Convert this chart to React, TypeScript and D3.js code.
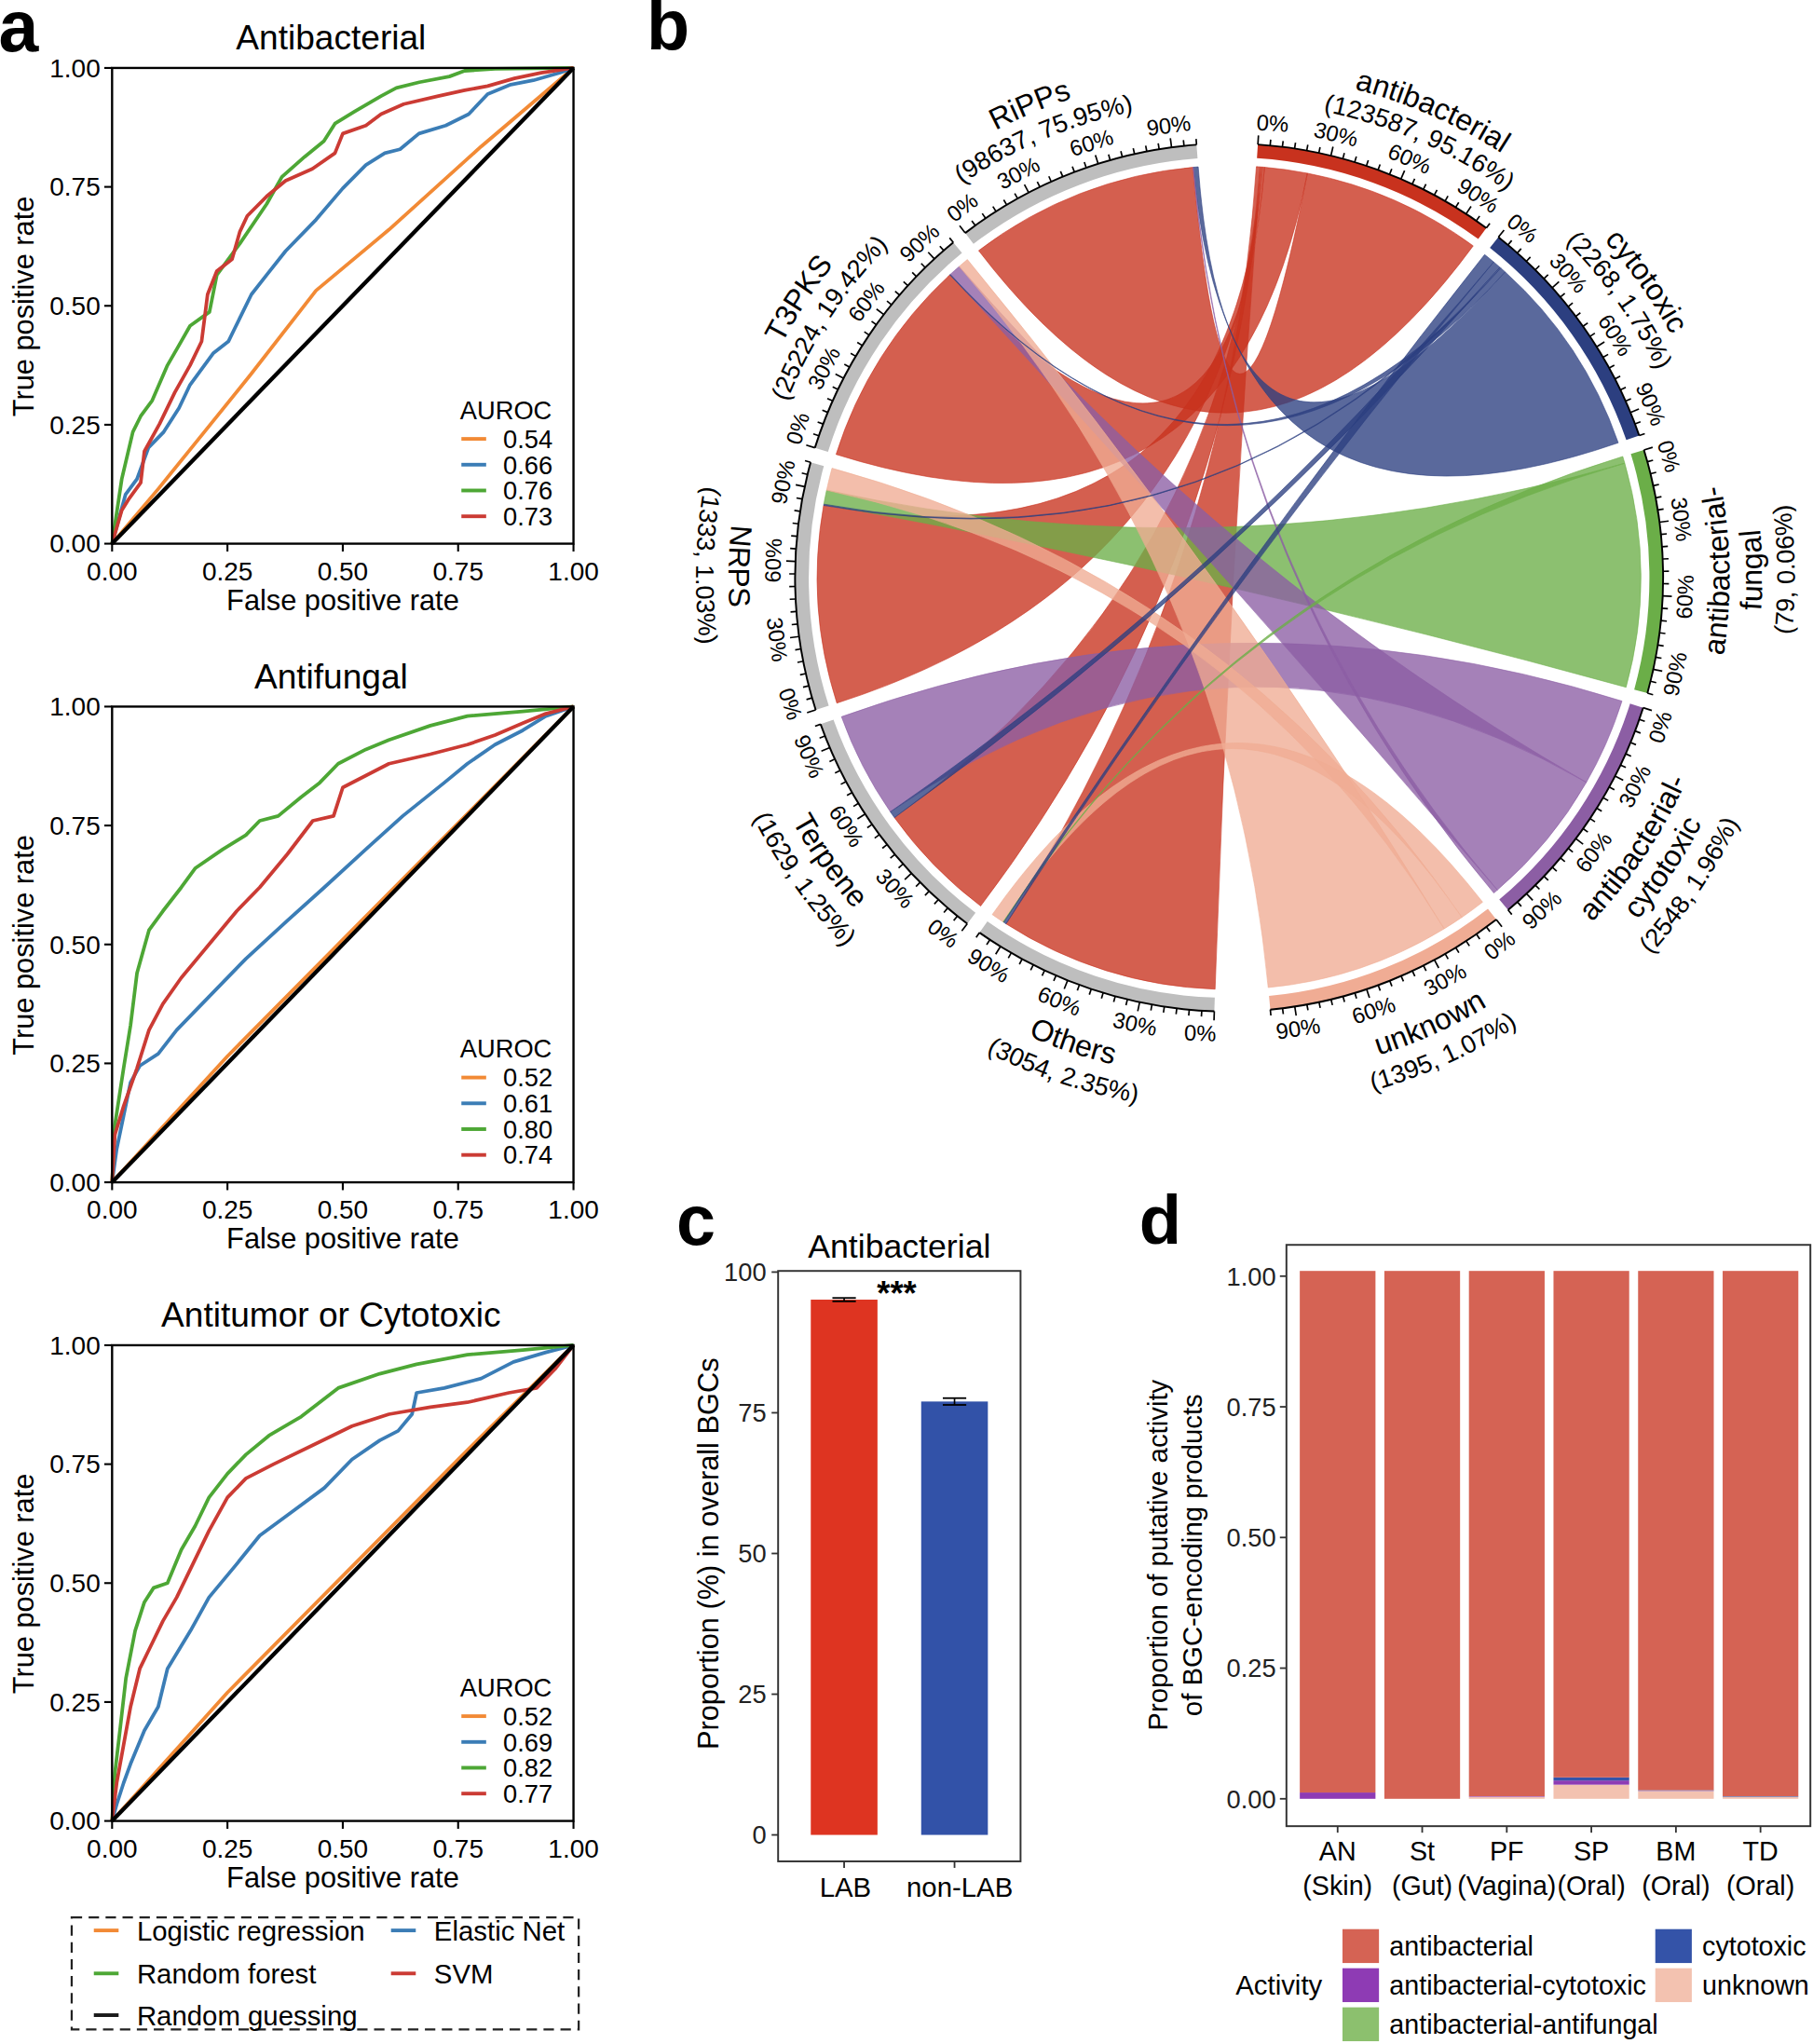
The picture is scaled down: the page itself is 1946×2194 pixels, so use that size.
import React from "react";
import * as d3 from "d3";

const FONT = "'Liberation Sans', Arial, Helvetica, sans-serif";
const W = 1391;
const H = 1568;

// ---------- panel a : ROC curves ----------
const rocTitles = ["Antibacterial", "Antifungal", "Antitumor or Cytotoxic"];
const modelNames = ["Logistic regression", "Elastic Net", "Random forest", "SVM"];
const modelColors = ["#F28A35", "#3B7DB6", "#4DA735", "#CB3B34"];
const aurocAntibacterial = ["0.54", "0.66", "0.76", "0.73"];
const aurocAntifungal = ["0.52", "0.61", "0.80", "0.74"];
const aurocCytotoxic = ["0.52", "0.69", "0.82", "0.77"];
const rocTicks = [0, 0.25, 0.5, 0.75, 1];

type Pt = [number, number];

// [false positive rate, true positive rate]
const abLogistic: Pt[] = [[0, 0], [0.1, 0.115], [0.2, 0.235], [0.3, 0.355], [0.442, 0.532], [0.6, 0.66], [0.8, 0.835], [1, 1]];
const abElastic: Pt[] = [[0, 0], [0.029, 0.103], [0.054, 0.136], [0.079, 0.202], [0.112, 0.235], [0.145, 0.285], [0.169, 0.334], [0.219, 0.4], [0.252, 0.425], [0.302, 0.524], [0.335, 0.565], [0.376, 0.615], [0.442, 0.681], [0.5, 0.747], [0.55, 0.796], [0.591, 0.821], [0.624, 0.829], [0.665, 0.862], [0.723, 0.879], [0.773, 0.903], [0.814, 0.945], [0.864, 0.965], [0.913, 0.974], [0.971, 0.99], [1, 1]];
const abForest: Pt[] = [[0, 0], [0.021, 0.136], [0.045, 0.235], [0.062, 0.268], [0.087, 0.301], [0.12, 0.375], [0.145, 0.417], [0.169, 0.458], [0.211, 0.487], [0.227, 0.565], [0.277, 0.631], [0.335, 0.714], [0.368, 0.771], [0.417, 0.813], [0.459, 0.846], [0.483, 0.883], [0.525, 0.908], [0.583, 0.941], [0.616, 0.958], [0.666, 0.97], [0.731, 0.982], [0.764, 0.994], [0.83, 0.998], [1, 1]];
const abSvm: Pt[] = [[0, 0], [0.021, 0.07], [0.037, 0.095], [0.062, 0.128], [0.07, 0.194], [0.103, 0.252], [0.136, 0.318], [0.169, 0.375], [0.194, 0.425], [0.207, 0.524], [0.227, 0.573], [0.26, 0.598], [0.277, 0.656], [0.293, 0.689], [0.335, 0.73], [0.376, 0.763], [0.434, 0.788], [0.483, 0.821], [0.5, 0.862], [0.55, 0.879], [0.583, 0.903], [0.632, 0.924], [0.707, 0.941], [0.764, 0.953], [0.814, 0.962], [0.872, 0.978], [0.93, 0.99], [1, 1]];

const afLogistic: Pt[] = [[0, 0], [0.25, 0.265], [0.5, 0.51], [0.75, 0.755], [1, 1]];
const afElastic: Pt[] = [[0, 0], [0.01, 0.07], [0.025, 0.14], [0.04, 0.21], [0.06, 0.245], [0.1, 0.27], [0.14, 0.32], [0.21, 0.39], [0.29, 0.47], [0.38, 0.55], [0.46, 0.62], [0.55, 0.7], [0.63, 0.77], [0.72, 0.84], [0.77, 0.88], [0.83, 0.92], [0.89, 0.95], [0.94, 0.98], [1, 1]];
const afForest: Pt[] = [[0, 0], [0.006, 0.12], [0.025, 0.24], [0.04, 0.33], [0.054, 0.44], [0.08, 0.53], [0.11, 0.57], [0.15, 0.62], [0.18, 0.66], [0.24, 0.7], [0.29, 0.73], [0.32, 0.76], [0.36, 0.77], [0.41, 0.81], [0.45, 0.84], [0.49, 0.88], [0.55, 0.91], [0.6, 0.93], [0.69, 0.96], [0.77, 0.98], [0.89, 0.99], [1, 1]];
const afSvm: Pt[] = [[0, 0], [0.006, 0.1], [0.025, 0.16], [0.054, 0.24], [0.08, 0.32], [0.11, 0.375], [0.15, 0.43], [0.21, 0.5], [0.27, 0.57], [0.32, 0.62], [0.38, 0.69], [0.435, 0.76], [0.48, 0.77], [0.5, 0.83], [0.55, 0.855], [0.6, 0.88], [0.69, 0.9], [0.77, 0.92], [0.83, 0.94], [0.89, 0.965], [0.94, 0.985], [1, 1]];

const atLogistic: Pt[] = [[0, 0], [0.25, 0.27], [0.5, 0.515], [0.75, 0.76], [1, 1]];
const atElastic: Pt[] = [[0, 0], [0.01, 0.035], [0.025, 0.08], [0.04, 0.12], [0.07, 0.19], [0.1, 0.24], [0.12, 0.32], [0.17, 0.4], [0.21, 0.47], [0.27, 0.54], [0.32, 0.6], [0.39, 0.65], [0.46, 0.7], [0.52, 0.76], [0.58, 0.8], [0.62, 0.82], [0.65, 0.855], [0.66, 0.9], [0.72, 0.91], [0.8, 0.93], [0.87, 0.965], [0.94, 0.985], [1, 1]];
const atForest: Pt[] = [[0, 0], [0.006, 0.1], [0.017, 0.19], [0.03, 0.3], [0.04, 0.35], [0.05, 0.4], [0.07, 0.46], [0.09, 0.49], [0.12, 0.5], [0.15, 0.57], [0.18, 0.62], [0.21, 0.68], [0.25, 0.73], [0.29, 0.77], [0.34, 0.81], [0.41, 0.85], [0.49, 0.91], [0.58, 0.94], [0.66, 0.96], [0.77, 0.98], [0.89, 0.99], [1, 1]];
const atSvm: Pt[] = [[0, 0], [0.01, 0.08], [0.025, 0.16], [0.04, 0.24], [0.06, 0.32], [0.08, 0.36], [0.11, 0.42], [0.14, 0.47], [0.175, 0.54], [0.21, 0.61], [0.25, 0.68], [0.29, 0.72], [0.35, 0.75], [0.435, 0.79], [0.52, 0.83], [0.6, 0.855], [0.69, 0.87], [0.77, 0.88], [0.86, 0.9], [0.92, 0.91], [0.96, 0.95], [1, 1]];

const rocCurves = [
  [abLogistic, abElastic, abForest, abSvm],
  [afLogistic, afElastic, afForest, afSvm],
  [atLogistic, atElastic, atForest, atSvm],
];
const rocAuroc = [aurocAntibacterial, aurocAntifungal, aurocCytotoxic];

// ---------- panel b : chord diagram ----------
const sectorNames = ["antibacterial", "cytotoxic", "antibacterial-fungal", "antibacterial-cytotoxic", "unknown", "Others", "Terpene", "NRPS", "T3PKS", "RiPPs"];
const sectorLabelLines = [
  ["antibacterial", "(123587, 95.16%)"],
  ["cytotoxic", "(2268, 1.75%)"],
  ["antibacterial-", "fungal", "(79, 0.06%)"],
  ["antibacterial-", "cytotoxic", "(2548, 1.96%)"],
  ["unknown", "(1395, 1.07%)"],
  ["Others", "(3054, 2.35%)"],
  ["Terpene", "(1629, 1.25%)"],
  ["NRPS", "(1333, 1.03%)"],
  ["T3PKS", "(25224, 19.42%)"],
  ["RiPPs", "(98637, 75.95%)"],
];
// small angular nudges of the sector labels (degrees)
const labelShift = [3.5, 0, 0, 0, -2.5, 0, 1, 2.5, -1, -2];
const activityColors: Record<string, string> = {
  antibacterial: "#C8321E",
  cytotoxic: "#2C3F80",
  "antibacterial-fungal": "#6BAE48",
  "antibacterial-cytotoxic": "#8C5EA4",
  unknown: "#F0AC94",
};
const classRingColor = "#BEBEBE";
const tickPercents = d3.range(0, 101, 5);
const tickLabelPercents = [0, 30, 60, 90];

// [class, activity, % of class sector, % of activity sector]
const chordLinks: [string, string, number, number][] = [
  ["RiPPs", "antibacterial", 97.8, 78.0],
  ["T3PKS", "antibacterial", 90.2, 18.5],
  ["Others", "antibacterial", 93.0, 1.7],
  ["Terpene", "antibacterial", 52.0, 0.8],
  ["NRPS", "antibacterial", 84.0, 1.0],
  ["RiPPs", "cytotoxic", 2.0, 88.5],
  ["NRPS", "antibacterial-fungal", 6.0, 97.0],
  ["Terpene", "antibacterial-cytotoxic", 45.0, 38.0],
  ["T3PKS", "antibacterial-cytotoxic", 5.0, 60.0],
  ["RiPPs", "antibacterial-cytotoxic", 0.2, 2.0],
  ["T3PKS", "unknown", 4.5, 80.0],
  ["NRPS", "unknown", 9.5, 9.0],
  ["Others", "unknown", 5.5, 11.0],
  ["Others", "antibacterial-fungal", 0.3, 3.0],
  ["T3PKS", "cytotoxic", 0.3, 2.5],
  ["NRPS", "cytotoxic", 0.5, 0.5],
  ["Terpene", "cytotoxic", 3.0, 3.5],
  ["Others", "cytotoxic", 1.2, 5.0],
];
// clockwise order of the links inside each sector
const linkOrder: Record<string, string[]> = {
  RiPPs: ["antibacterial", "antibacterial-cytotoxic", "cytotoxic"],
  T3PKS: ["antibacterial", "cytotoxic", "antibacterial-cytotoxic", "unknown"],
  NRPS: ["antibacterial", "cytotoxic", "antibacterial-fungal", "unknown"],
  Terpene: ["antibacterial", "cytotoxic", "antibacterial-cytotoxic"],
  Others: ["antibacterial", "cytotoxic", "antibacterial-fungal", "unknown"],
  antibacterial: ["Others", "Terpene", "NRPS", "T3PKS", "RiPPs"],
  cytotoxic: ["Others", "Terpene", "NRPS", "T3PKS", "RiPPs"],
  "antibacterial-fungal": ["Others", "NRPS"],
  "antibacterial-cytotoxic": ["Terpene", "T3PKS", "RiPPs"],
  unknown: ["Others", "NRPS", "T3PKS"],
};

// ---------- panel c ----------
const barGroups = ["LAB", "non-LAB"];
const barValues = [95.1, 77.0];
const barErrors = [0.3, 0.6];
const barColors = ["#DE3421", "#3252A8"];
const barTicks = [0, 25, 50, 75, 100];

// ---------- panel d ----------
const siteCodes = ["AN", "St", "PF", "SP", "BM", "TD"];
const siteBodies = ["(Skin)", "(Gut)", "(Vagina)", "(Oral)", "(Oral)", "(Oral)"];
const stackKeys = ["unknown", "antibacterial-cytotoxic", "cytotoxic", "antibacterial-antifungal", "antibacterial"];
const unknownShare = [0, 0, 0.004, 0.027, 0.015, 0.004];
const abCytotoxicShare = [0.012, 0, 0.001, 0.008, 0.0005, 0];
const cytotoxicShare = [0, 0, 0, 0.006, 0.001, 0.001];
const abAntifungalShare = [0, 0, 0, 0, 0, 0];
const antibacterialShare = [0.998, 1.01, 1.005, 0.969, 0.9935, 1.005];
const stackColors: Record<string, string> = {
  antibacterial: "#D56354",
  "antibacterial-cytotoxic": "#8E3BB4",
  "antibacterial-antifungal": "#8CC06E",
  cytotoxic: "#3453A8",
  unknown: "#F3C2B0",
};
const stackTicks = [0, 0.25, 0.5, 0.75, 1];

function RocPanel({ top, title, curves, auroc }: { top: number; title: string; curves: Pt[][]; auroc: string[] }) {
  const x = d3.scaleLinear().domain([0, 1]).range([86, 440]);
  const y = d3.scaleLinear().domain([0, 1]).range([top + 365, top]);
  const line = d3.line<Pt>().x((d) => x(d[0])).y((d) => y(d[1]));
  return (
    <g>
      <text x={254} y={top - 14} fontSize={26.5} textAnchor="middle">{title}</text>
      {curves.map((c, i) => (
        <path key={i} d={line(c) || ""} fill="none" stroke={modelColors[i]} strokeWidth={2.7} strokeLinejoin="round" />
      ))}
      <path d={line([[0, 0], [1, 1]]) || ""} fill="none" stroke="#000" strokeWidth={3.1} />
      <rect x={86} y={top} width={354} height={365} fill="none" stroke="#000" strokeWidth={1.7} />
      {rocTicks.map((t) => (
        <g key={t}>
          <line x1={86} x2={80} y1={y(t)} y2={y(t)} stroke="#000" strokeWidth={1.5} />
          <text x={77} y={y(t) + 7} textAnchor="end" fontSize={20}>{t.toFixed(2)}</text>
          <line x1={x(t)} x2={x(t)} y1={top + 365} y2={top + 371} stroke="#000" strokeWidth={1.5} />
          <text x={x(t)} y={top + 393} textAnchor="middle" fontSize={20}>{t.toFixed(2)}</text>
        </g>
      ))}
      <text x={263} y={top + 416} textAnchor="middle" fontSize={22}>False positive rate</text>
      <text transform={`translate(26,${top + 183}) rotate(-90)`} textAnchor="middle" fontSize={22}>True positive rate</text>
      <text x={353} y={top + 269.5} fontSize={19.5}>AUROC</text>
      {auroc.map((a, i) => (
        <g key={i}>
          <line x1={354} x2={373} y1={top + 284.6 + 19.8 * i} y2={top + 284.6 + 19.8 * i} stroke={modelColors[i]} strokeWidth={2.8} />
          <text x={386} y={top + 291.6 + 19.8 * i} fontSize={19.5}>{a}</text>
        </g>
      ))}
    </g>
  );
}

function ModelLegend() {
  const items = [
    { name: modelNames[0], color: modelColors[0], x: 72, row: 0 },
    { name: modelNames[1], color: modelColors[1], x: 300, row: 0 },
    { name: modelNames[2], color: modelColors[2], x: 72, row: 1 },
    { name: modelNames[3], color: modelColors[3], x: 300, row: 1 },
    { name: "Random guessing", color: "#1a1a1a", x: 72, row: 2 },
  ];
  const rows = [1481, 1514, 1546];
  return (
    <g>
      <rect x={55} y={1471} width={389} height={86} fill="none" stroke="#222" strokeWidth={1.6} strokeDasharray="8 5" />
      {items.map((it) => (
        <g key={it.name}>
          <line x1={it.x} x2={it.x + 19} y1={rows[it.row]} y2={rows[it.row]} stroke={it.color} strokeWidth={2.8} />
          <text x={it.x + 33} y={rows[it.row] + 7.5} fontSize={21}>{it.name}</text>
        </g>
      ))}
    </g>
  );
}

function polar(r: number, deg: number): [number, number] {
  const a = (deg * Math.PI) / 180;
  return [r * Math.sin(a), -r * Math.cos(a)];
}

function ChordPanel() {
  const CX = 943, CY = 443;
  const R_CHORD = 316, R_IN = 322.5, R_OUT = 333;
  const ACT_SPAN = 32.55, CLASS_SPAN = 33.15, SMALL_GAP = 2, BOTTOM_GAP = 7.4;
  const rad = Math.PI / 180;

  const sectors: { name: string; start: number; end: number; span: number; idx: number }[] = [];
  let cursor = 3.8;
  sectorNames.forEach((name, i) => {
    const span = i < 5 ? ACT_SPAN : CLASS_SPAN;
    sectors.push({ name, start: cursor, end: cursor + span, span, idx: i });
    cursor += span + (i === 4 ? BOTTOM_GAP : SMALL_GAP);
  });

  // sub-arcs of every link inside both of its sectors
  const classSide = new Map<string, [number, number]>();
  const actSide = new Map<string, [number, number]>();
  sectors.forEach((s) => {
    let cur = s.start;
    const isActivity = s.idx < 5;
    linkOrder[s.name].forEach((other) => {
      const link = chordLinks.find((l) => (isActivity ? l[1] === s.name && l[0] === other : l[0] === s.name && l[1] === other));
      if (!link) return;
      const w = ((isActivity ? link[3] : link[2]) / 100) * s.span;
      const key = link[0] + "|" + link[1];
      (isActivity ? actSide : classSide).set(key, [cur, cur + w]);
      cur += w;
    });
  });

  const ribbon = d3.ribbon<any, any>().radius(R_CHORD);
  const ringArc = d3.arc<any>().innerRadius(R_IN).outerRadius(R_OUT);

  return (
    <g transform={`translate(${CX},${CY})`}>
      <defs>
        {sectors.map((s) => {
          const c = (s.start + s.end) / 2;
          const flip = c >= 89 && c <= 271;
          const lc = c + labelShift[s.idx];
          const lines = sectorLabelLines[s.idx];
          return lines.map((_, j) => {
            const r = flip ? 384 + 25 * j : 365 + 22 * (lines.length - 1 - j);
            const a0 = flip ? lc + 70 : lc - 70;
            const a1 = flip ? lc - 70 : lc + 70;
            const p0 = polar(r, a0), p1 = polar(r, a1);
            return (
              <path key={`${s.idx}-${j}`} id={`slab-${s.idx}-${j}`} d={`M${p0[0]},${p0[1]} A${r},${r} 0 0 ${flip ? 0 : 1} ${p1[0]},${p1[1]}`} />
            );
          });
        })}
      </defs>
      {chordLinks.map((l) => {
        const key = l[0] + "|" + l[1];
        const a = classSide.get(key)!;
        const b = actSide.get(key)!;
        const col = activityColors[l[1]];
        const d = ribbon({
          source: { startAngle: a[0] * rad, endAngle: a[1] * rad },
          target: { startAngle: b[0] * rad, endAngle: b[1] * rad },
        }) as unknown as string;
        return <path key={key} d={d} fill={col} fillOpacity={0.78} stroke={col} strokeOpacity={0.7} strokeWidth={0.6} />;
      })}
      {sectors.map((s) => {
        const fill = s.idx < 5 ? activityColors[s.name] : classRingColor;
        const axis = d3.path();
        axis.arc(0, 0, R_OUT, (s.start - 90) * rad, (s.end - 90) * rad);
        return (
          <g key={s.name}>
            <path d={ringArc({ startAngle: s.start * rad, endAngle: s.end * rad }) || ""} fill={fill} />
            <path d={axis.toString()} fill="none" stroke="#000" strokeWidth={1.4} />
            {tickPercents.map((p) => {
              const ang = s.start + (p / 100) * s.span;
              const major = tickLabelPercents.includes(p);
              const q0 = polar(R_OUT, ang), q1 = polar(R_OUT + (major ? 7 : 4.5), ang);
              return <line key={p} x1={q0[0]} y1={q0[1]} x2={q1[0]} y2={q1[1]} stroke="#000" strokeWidth={1.2} />;
            })}
            {tickLabelPercents.map((p) => {
              const ang = s.start + (p / 100) * s.span;
              const flip = ang > 90 && ang < 270;
              // the first label starts at its tick and runs clockwise into the sector
              const anchor = p === 0 ? (flip ? "end" : "start") : "middle";
              const dx = p === 0 ? (flip ? 2 : -2) : 0;
              return (
                <text key={p} transform={`rotate(${ang}) translate(0,${-350}) ${flip ? "rotate(180)" : ""}`} textAnchor={anchor} dx={dx} dy="0.35em" fontSize={17}>
                  {p}%
                </text>
              );
            })}
            {sectorLabelLines[s.idx].map((ln, j) => (
              <text key={j} fontSize={ln.startsWith("(") ? 19.5 : 23} textAnchor="middle">
                <textPath href={`#slab-${s.idx}-${j}`} startOffset="50%">{ln}</textPath>
              </text>
            ))}
          </g>
        );
      })}
    </g>
  );
}

function BarPanel() {
  const x = d3.scaleBand<string>().domain(barGroups).range([597, 783]).paddingInner(0.396).paddingOuter(0.296);
  const y = d3.scaleLinear().domain([-4.7, 100.2]).range([1428, 975]);
  const bw = x.bandwidth();
  return (
    <g>
      <text x={690} y={965} fontSize={25.5} textAnchor="middle">Antibacterial</text>
      {barGroups.map((g, i) => {
        const cx = (x(g) || 0) + bw / 2;
        return (
          <g key={g}>
            <rect x={x(g)} y={y(barValues[i])} width={bw} height={y(0) - y(barValues[i])} fill={barColors[i]} />
            <line x1={cx} x2={cx} y1={y(barValues[i] + barErrors[i])} y2={y(barValues[i] - barErrors[i])} stroke="#000" strokeWidth={1.2} />
            <line x1={cx - 9} x2={cx + 9} y1={y(barValues[i] + barErrors[i])} y2={y(barValues[i] + barErrors[i])} stroke="#000" strokeWidth={1.3} />
            <line x1={cx - 9} x2={cx + 9} y1={y(barValues[i] - barErrors[i])} y2={y(barValues[i] - barErrors[i])} stroke="#000" strokeWidth={1.3} />
            <line x1={cx} x2={cx} y1={1428} y2={1433} stroke="#333" strokeWidth={1.3} />
            <text x={cx + (i === 1 ? 4 : 1)} y={1455} fontSize={21} textAnchor="middle">{g}</text>
          </g>
        );
      })}
      <text x={688} y={1001} fontSize={26} fontWeight="bold" textAnchor="middle">***</text>
      <rect x={597} y={975} width={186} height={453} fill="none" stroke="#333" strokeWidth={1.4} />
      {barTicks.map((t) => (
        <g key={t}>
          <line x1={597} x2={592} y1={y(t)} y2={y(t)} stroke="#333" strokeWidth={1.3} />
          <text x={588} y={y(t) + 7} fontSize={19.5} textAnchor="end" fill="#222">{t}</text>
        </g>
      ))}
      <text transform="translate(551,1192) rotate(-90)" fontSize={22} textAnchor="middle">Proportion (%) in overall BGCs</text>
    </g>
  );
}

function StackPanel() {
  const rows = siteCodes.map((s, i) => ({
    site: s,
    unknown: unknownShare[i],
    "antibacterial-cytotoxic": abCytotoxicShare[i],
    cytotoxic: cytotoxicShare[i],
    "antibacterial-antifungal": abAntifungalShare[i],
    antibacterial: antibacterialShare[i],
  }));
  const series = d3.stack<any>().keys(stackKeys)(rows);
  const x = d3.scaleBand<string>().domain(siteCodes).range([994, 1383]).paddingInner(0.105).paddingOuter(0.05);
  const y = d3.scaleLinear().domain([0, 1]).range([1380, 979]);
  const legendItems = [
    { key: "antibacterial", x: 1030, y: 1480 },
    { key: "antibacterial-cytotoxic", x: 1030, y: 1510 },
    { key: "antibacterial-antifungal", x: 1030, y: 1540 },
    { key: "cytotoxic", x: 1270, y: 1480 },
    { key: "unknown", x: 1270, y: 1510 },
  ];
  return (
    <g>
      {series.map((s) => (
        <g key={s.key} fill={stackColors[s.key]}>
          {s.map((d, i) => (
            <rect key={i} x={x(siteCodes[i])} y={y(d[1])} width={x.bandwidth()} height={Math.max(0, y(d[0]) - y(d[1]))} />
          ))}
        </g>
      ))}
      <rect x={987} y={955} width={402} height={446} fill="none" stroke="#333" strokeWidth={1.4} />
      {stackTicks.map((t) => (
        <g key={t}>
          <line x1={987} x2={982} y1={y(t)} y2={y(t)} stroke="#333" strokeWidth={1.3} />
          <text x={979} y={y(t) + 7} fontSize={19.5} textAnchor="end" fill="#222">{t.toFixed(2)}</text>
        </g>
      ))}
      {siteCodes.map((s, i) => {
        const cx = (x(s) || 0) + x.bandwidth() / 2;
        return (
          <g key={s}>
            <line x1={cx} x2={cx} y1={1401} y2={1406} stroke="#333" strokeWidth={1.3} />
            <text x={cx} y={1427.5} fontSize={20.5} textAnchor="middle">{s}</text>
            <text x={cx} y={1454} fontSize={20.5} textAnchor="middle">{siteBodies[i]}</text>
          </g>
        );
      })}
      <text transform="translate(896,1193) rotate(-90)" fontSize={21} textAnchor="middle">Proportion of putative activity</text>
      <text transform="translate(922,1193) rotate(-90)" fontSize={21} textAnchor="middle">of BGC-encoding products</text>
      <text x={948} y={1530} fontSize={21}>Activity</text>
      {legendItems.map((it) => (
        <g key={it.key}>
          <rect x={it.x} y={it.y} width={28} height={26} fill={stackColors[it.key]} />
          <text x={it.x + 36} y={it.y + 20} fontSize={20.5}>{it.key}</text>
        </g>
      ))}
    </g>
  );
}

export default function App() {
  return (
    <svg
      width={1946}
      height={2194}
      viewBox={`0 0 ${W} ${H}`}
      style={{ position: "absolute", left: 0, top: 0, background: "#fff" }}
      fontFamily={FONT}
    >
      <rect width={W} height={H} fill="#fff" />
      <text x={-1} y={39} fontSize={55} fontWeight="bold">a</text>
      {rocTitles.map((t, i) => (
        <RocPanel key={t} top={52 + 490 * i} title={t} curves={rocCurves[i]} auroc={rocAuroc[i]} />
      ))}
      <ModelLegend />
      <text x={496} y={38} fontSize={54} fontWeight="bold">b</text>
      <ChordPanel />
      <text x={519} y={955} fontSize={54} fontWeight="bold">c</text>
      <BarPanel />
      <text x={874} y={954} fontSize={53} fontWeight="bold">d</text>
      <StackPanel />
    </svg>
  );
}
